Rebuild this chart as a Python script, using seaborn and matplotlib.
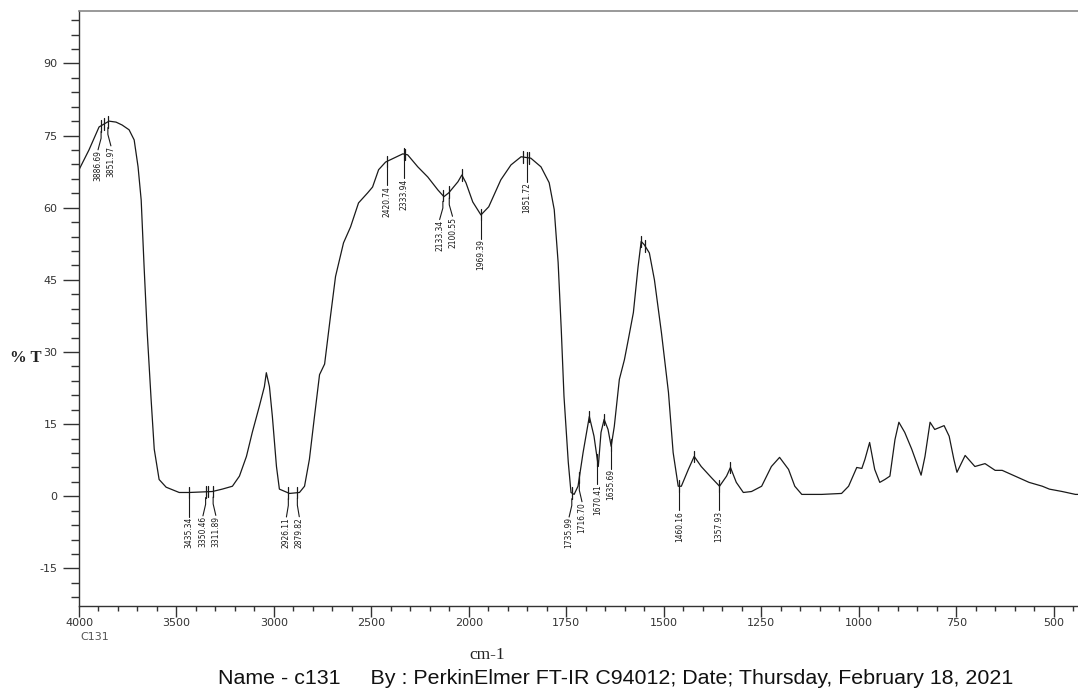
import numpy as np
import pandas as pd
import matplotlib
matplotlib.use("Agg")
import matplotlib.pyplot as plt
import seaborn as sns
from matplotlib import font_manager

# ---------------- data ----------------
wavenumber = [4000, 3949, 3897, 3846, 3810, 3779, 3743, 3717, 3697, 3681,
              3666, 3650, 3630, 3614, 3589, 3553, 3486, 3434, 3316, 3265,
              3213, 3177, 3141, 3111, 3075, 3049, 3039, 3023, 3008, 2987,
              2972, 2920, 2869, 2843, 2818, 2792, 2766, 2740, 2710, 2684,
              2643, 2607, 2566, 2519, 2494, 2463, 2427, 2386, 2339, 2314,
              2262, 2211, 2159, 2128, 2103, 2056, 2036, 2015, 1990, 1969,
              1949, 1918, 1892, 1866, 1841, 1815, 1794, 1781, 1771, 1763,
              1756, 1745, 1738, 1730, 1720, 1707, 1691, 1679, 1668, 1661,
              1653, 1643, 1635, 1627, 1614, 1601, 1591, 1578, 1566, 1558,
              1550, 1537, 1524, 1506, 1488, 1476, 1463, 1455, 1437, 1422,
              1404, 1378, 1357, 1339, 1329, 1314, 1296, 1275, 1249, 1224,
              1203, 1180, 1164, 1146, 1095, 1044, 1026, 1005, 992, 984,
              972, 959, 946, 933, 920, 907, 897, 882, 864, 840,
              830, 817, 805, 781, 768, 756, 748, 727, 702, 676,
              650, 632, 599, 563, 529, 511, 478, 444, 432]
transmittance = [67.9, 72.0, 76.8, 78.0, 77.8, 77.2, 76.2, 74.1, 68.5, 61.6,
                 47.7, 34.0, 20.1, 9.8, 3.5, 1.9, 0.8, 0.8, 1.0, 1.5,
                 2.1, 4.2, 8.3, 13.3, 18.7, 22.8, 25.7, 22.8, 16.6, 6.2,
                 1.5, 0.6, 0.8, 2.1, 7.7, 16.6, 25.3, 27.5, 37.4, 45.7,
                 52.7, 56.0, 61.0, 63.1, 64.3, 67.9, 69.5, 70.3, 71.2, 71.0,
                 68.5, 66.4, 63.7, 62.3, 63.1, 65.4, 66.8, 65.2, 61.2, 58.5,
                 60.2, 65.8, 68.9, 70.6, 70.3, 68.5, 65.2, 59.6, 48.6, 34.7,
                 20.8, 7.1, 0.8, 0.4, 2.1, 9.1, 16.6, 12.5, 6.2, 13.3,
                 16.0, 13.9, 10.4, 14.5, 24.3, 28.4, 32.6, 38.2, 47.7, 53.0,
                 52.3, 50.6, 45.0, 34.0, 21.6, 9.1, 2.1, 2.1, 5.6, 8.3,
                 6.2, 3.9, 2.1, 4.2, 6.0, 2.9, 0.8, 1.0, 2.1, 6.2,
                 8.1, 5.6, 2.1, 0.4, 0.4, 0.6, 2.1, 6.0, 5.8, 7.7,
                 11.2, 5.6, 2.9, 3.5, 4.2, 11.8, 15.4, 13.3, 9.8, 4.4,
                 8.3, 15.4, 13.9, 14.7, 12.5, 7.7, 5.0, 8.5, 6.2, 6.8,
                 5.4, 5.4, 4.2, 2.9, 2.1, 1.5, 1.0, 0.4, 0.4]

peak_labels = ["3886.69", "3851.97", "3435.34", "3350.46", "3311.89",
               "2926.11", "2879.82", "2420.74", "2333.94", "2133.34",
               "2100.55", "1969.39", "1851.72", "1735.99", "1716.70",
               "1670.41", "1635.69", "1460.16", "1357.93"]
unlabeled_marks = [3870, 3340, 2326, 2036, 1862, 1845, 1691, 1653, 1558,
                   1548, 1422, 1329]

x_major = [4000, 3500, 3000, 2500, 2000, 1750, 1500, 1250, 1000, 750, 500]
y_major = [90, 75, 60, 45, 30, 15, 0, -15]

footer = "Name - c131     By : PerkinElmer FT-IR C94012; Date; Thursday, February 18, 2021"

# ---------------- style ----------------
sns.set_theme(style="white")
ttf = font_manager.fontManager.ttflist
names = {f.name for f in ttf}
has_condensed = any(f.name == "DejaVu Sans" and str(f.stretch) in ("condensed", "semi-condensed")
                    for f in ttf)
serif = "Liberation Serif" if "Liberation Serif" in names else "DejaVu Serif"
sans = "Liberation Sans" if "Liberation Sans" in names else "DejaVu Sans"
if "Liberation Sans Narrow" in names:
    lab_font = dict(family="Liberation Sans Narrow", fontsize=7)
elif has_condensed:
    lab_font = dict(family="DejaVu Sans", fontstretch="condensed", fontsize=6)
else:
    lab_font = dict(family=serif, fontsize=6.6)
plt.rcParams['font.family'] = ['DejaVu Sans']

fig = plt.figure(figsize=(10.78, 6.91), dpi=100)
ax = fig.add_axes([79 / 1078, 1 - 606 / 691, 1.0 - 79 / 1078 + 0.002, (606 - 11) / 691])


def fwd(x):
    x = np.asarray(x, float)
    return np.where(x > 2000, 2000 + (x - 2000) / 2.0, x)


def inv(t):
    t = np.asarray(t, float)
    return np.where(t > 2000, 2000 + (t - 2000) * 2.0, t)


ax.set_xscale('function', functions=(fwd, inv))

df = pd.DataFrame({"cm-1": wavenumber, "%T": transmittance})
sns.lineplot(data=df, x="cm-1", y="%T", ax=ax, color="#1a1a1a", lw=0.9,
             sort=False, estimator=None)

ax.set_xlim(4000, 432)
ax.set_ylim(-22.8, 100.9)
ax.set_xlabel("")
ax.set_ylabel("")

# ticks (lengths in points: 1 px = 0.72 pt at 100 dpi)
ax.set_xticks(x_major)
ax.set_xticklabels([str(v) for v in x_major])
x_minor = [v for v in range(3900, 2000, -100) if v not in x_major] + \
          [v for v in range(1950, 430, -50) if v not in x_major]
ax.set_xticks(x_minor, minor=True)
ax.set_yticks(y_major)
ax.set_yticklabels([str(v) for v in y_major])
ax.set_yticks([v for v in range(-21, 100, 3) if v not in y_major], minor=True)
ax.tick_params(axis='x', which='major', direction='out', length=8, width=1,
               color='#333333', labelsize=8, labelcolor='#333333', pad=0.5,
               bottom=True)
ax.tick_params(axis='x', which='minor', direction='out', length=3.6, width=1,
               color='#333333', bottom=True)
ax.tick_params(axis='y', which='major', direction='out', length=11.5, width=1,
               color='#333333', labelsize=8, labelcolor='#333333', pad=4,
               left=True)
ax.tick_params(axis='y', which='minor', direction='out', length=5.8, width=1,
               color='#333333', left=True)

for side in ['left', 'bottom']:
    ax.spines[side].set_color('#333333')
    ax.spines[side].set_linewidth(1.0)
ax.spines['top'].set_color('#888888')
ax.spines['top'].set_linewidth(1.2)
ax.spines['right'].set_visible(False)

# ---------------- peak annotations ----------------
wn_arr = np.array(wavenumber[::-1], float)
tr_arr = np.array(transmittance[::-1], float)


def curve(w):
    return float(np.interp(w, wn_arr, tr_arr))


def tick_mark(w):
    yc = curve(w)
    ax.plot([w, w], [yc - 1.2, yc + 1.2], color="#1a1a1a", lw=0.9)


peak_wn = [float(s) for s in peak_labels]
order = np.argsort(peak_wn)[::-1]
t_pos = [float(fwd(peak_wn[i])) for i in order]
min_sep = 33.0
for _ in range(100):
    moved = False
    for i in range(len(t_pos) - 1):
        gap = t_pos[i] - t_pos[i + 1]
        if gap < min_sep - 1e-6:
            d = (min_sep - gap) / 2.0
            t_pos[i] += d
            t_pos[i + 1] -= d
            moved = True
    if not moved:
        break
label_x = {}
for k, i in enumerate(order):
    label_x[i] = float(inv(t_pos[k]))

for i, lab in enumerate(peak_labels):
    w = peak_wn[i]
    yc = curve(w)
    tick_mark(w)
    lx = label_x[i]
    ax.plot([w, w, lx], [yc - 1.2, yc - 2.6, yc - 5.0], color="#1a1a1a", lw=0.8)
    ax.text(lx, yc - 5.1, lab, rotation=90, ha='center', va='top',
            color="#1a1a1a", **lab_font)

for w in unlabeled_marks:
    tick_mark(w)

# ---------------- texts ----------------
fig.text(10 / 1078, 1 - 358 / 691, "% T", family=serif, fontweight='bold',
         fontsize=12, color="#222222", ha='left', va='center')
fig.text(80 / 1078, 1 - 637 / 691, "C131", fontsize=8, color="#555555",
         ha='left', va='center')
fig.text(487 / 1078, 1 - 655 / 691, "cm-1", family=serif, fontsize=12.5,
         color="#222222", ha='center', va='center')
fig.text(218 / 1078, 1 - 679 / 691, footer, family=sans, fontsize=15.4,
         color="#111111", ha='left', va='center')

fig.savefig("out.png", dpi=100)
